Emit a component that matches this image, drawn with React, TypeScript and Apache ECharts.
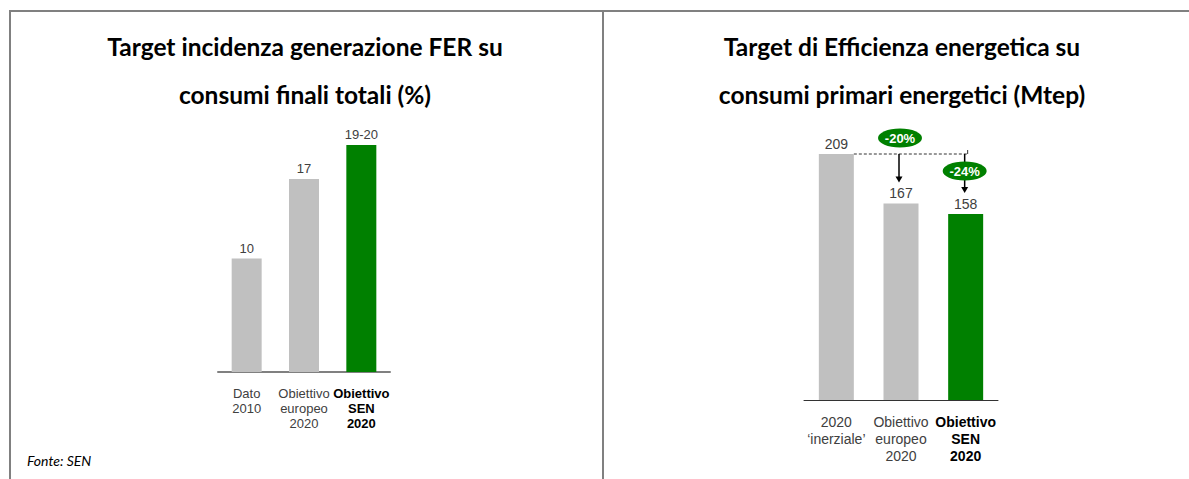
import React, { useEffect, useRef } from "react";
import * as echarts from "echarts";

const leftTitle = ["Target incidenza generazione FER su", "consumi finali totali (%)"];
const rightTitle = ["Target di Efficienza energetica su", "consumi primari energetici (Mtep)"];
const leftCategories = ["Dato\n2010", "Obiettivo\neuropeo\n2020", "Obiettivo\nSEN\n2020"];
const leftValues = [10, 17, 20];
const leftValueLabels = ["10", "17", "19-20"];
const rightCategories = ["2020\n‘inerziale’", "Obiettivo\neuropeo\n2020", "Obiettivo\nSEN\n2020"];
const rightValues = [209, 167, 158];
const reductionLabels = ["-20%", "-24%"];
const sourceText = "Fonte: SEN";

const GRAY = "#c0c0c0";
const GREEN = "#008000";
const SANS = "'Liberation Sans', Arial, sans-serif";
const TITLE_FONT = "Lato, 'Open Sans', sans-serif";

function boldLast(size: number, lh: number) {
  return {
    formatter: (v: string, i: number) =>
      i === 2 ? v.split("\n").map((s) => `{b|${s}}`).join("\n") : v,
    rich: { b: { fontWeight: "bold", color: "#000", fontSize: size, lineHeight: lh, fontFamily: SANS } },
  };
}

export default function App() {
  const ref = useRef<HTMLDivElement>(null);
  useEffect(() => {
    if (!ref.current) return;
    const chart = echarts.init(ref.current, undefined, { renderer: "svg" });
    chart.setOption({
      animation: false,
      backgroundColor: "#ffffff",
      grid: [
        { left: 218, right: 1189 - 390, top: 145, bottom: 479 - 372 },
        { left: 804, right: 1189 - 998, top: 154, bottom: 479 - 400 },
      ],
      xAxis: [
        {
          gridIndex: 0,
          type: "category",
          data: leftCategories,
          axisLine: { lineStyle: { color: "#808080", width: 2 } },
          axisTick: { show: false },
          axisLabel: {
            color: "#404040",
            fontSize: 13,
            lineHeight: 15,
            fontFamily: SANS,
            margin: 14,
            interval: 0,
            ...boldLast(13, 15),
          },
        },
        {
          gridIndex: 1,
          type: "category",
          data: rightCategories,
          axisLine: { lineStyle: { color: "#333333", width: 1 } },
          axisTick: { show: false },
          axisLabel: {
            color: "#404040",
            fontSize: 14,
            lineHeight: 17,
            fontFamily: SANS,
            margin: 13,
            interval: 0,
            ...boldLast(14, 17),
          },
        },
      ],
      yAxis: [
        { gridIndex: 0, type: "value", min: 0, max: 20, show: false },
        { gridIndex: 1, type: "value", min: 0, max: 209, show: false },
      ],
      series: [
        {
          type: "bar",
          xAxisIndex: 0,
          yAxisIndex: 0,
          barWidth: 30,
          data: leftValues.map((v, i) => ({ value: v, itemStyle: { color: i === 2 ? GREEN : GRAY } })),
          label: {
            show: true,
            position: "top",
            distance: 4,
            fontSize: 13,
            color: "#404040",
            fontFamily: SANS,
            formatter: (p: any) => leftValueLabels[p.dataIndex],
          },
        },
        {
          type: "bar",
          xAxisIndex: 1,
          yAxisIndex: 1,
          barWidth: 35,
          data: rightValues.map((v, i) => ({ value: v, itemStyle: { color: i === 2 ? GREEN : GRAY } })),
          label: {
            show: true,
            position: "top",
            distance: 3,
            fontSize: 14,
            color: "#404040",
            fontFamily: SANS,
          },
        },
      ],
    });

    const px = (i: number, v: number) =>
      chart.convertToPixel({ xAxisIndex: 1, yAxisIndex: 1 } as any, [i, v]) as number[];
    const top0 = px(0, rightValues[0]);
    const p1 = px(1, rightValues[1]);
    const p2 = px(2, rightValues[2]);
    const lineY = top0[1];
    const half = 35 / 2;
    const endX = p2[0] + 2;

    const titleText = (x: number, y: number, t: string) => ({
      type: "text",
      x,
      y,
      style: {
        text: t,
        font: `bold 24.5px ${TITLE_FONT}`,
        fill: "#000",
        align: "center",
        verticalAlign: "middle",
      },
    });

    const arrow = (x: number, y1: number, y2: number) => [
      { type: "line", shape: { x1: x, y1, x2: x, y2: y2 - 5 }, style: { stroke: "#000", lineWidth: 1.5 } },
      {
        type: "polygon",
        shape: { points: [[x - 3.5, y2 - 6], [x + 3.5, y2 - 6], [x, y2]] },
        style: { fill: "#000" },
      },
    ];

    const badge = (x: number, y: number, t: string) => [
      { type: "ellipse", shape: { cx: x, cy: y, rx: 22, ry: 9.5 }, style: { fill: GREEN }, z: 10 },
      {
        type: "text",
        x,
        y,
        z: 11,
        style: {
          text: t,
          font: `bold 13px ${SANS}`,
          fill: "#fff",
          align: "center",
          verticalAlign: "middle",
        },
      },
    ];

    chart.setOption({
      graphic: [
        {
          type: "polyline",
          shape: { points: [[10, 479], [10, 11], [1189, 11]] },
          style: { stroke: "#808080", lineWidth: 2, fill: null },
        },
        { type: "line", shape: { x1: 603, y1: 11, x2: 603, y2: 479 }, style: { stroke: "#808080", lineWidth: 2 } },
        titleText(305, 46, leftTitle[0]),
        titleText(305, 94, leftTitle[1]),
        titleText(902, 46, rightTitle[0]),
        titleText(902, 94, rightTitle[1]),
        {
          type: "text",
          x: 27,
          y: 460,
          style: { text: sourceText, font: `italic 14px ${TITLE_FONT}`, fill: "#000", verticalAlign: "middle" },
        },
        {
          type: "line",
          shape: { x1: top0[0] + half, y1: lineY, x2: endX, y2: lineY },
          style: { stroke: "#333", lineWidth: 1, lineDash: [3, 2] },
        },
        { type: "line", shape: { x1: endX, y1: lineY - 4, x2: endX, y2: lineY }, style: { stroke: "#333", lineWidth: 1 } },
        ...arrow(p1[0] - 2, lineY, p1[1] - 21),
        ...arrow(p2[0] - 1, lineY, p2[1] - 21),
        ...badge(p1[0] - 1, lineY - 16, reductionLabels[0]),
        ...badge(p2[0] - 1, lineY + 17, reductionLabels[1]),
      ],
    });
    return () => chart.dispose();
  }, []);
  return <div ref={ref} style={{ position: "absolute", left: 0, top: 0, width: 1189, height: 479 }} />;
}
